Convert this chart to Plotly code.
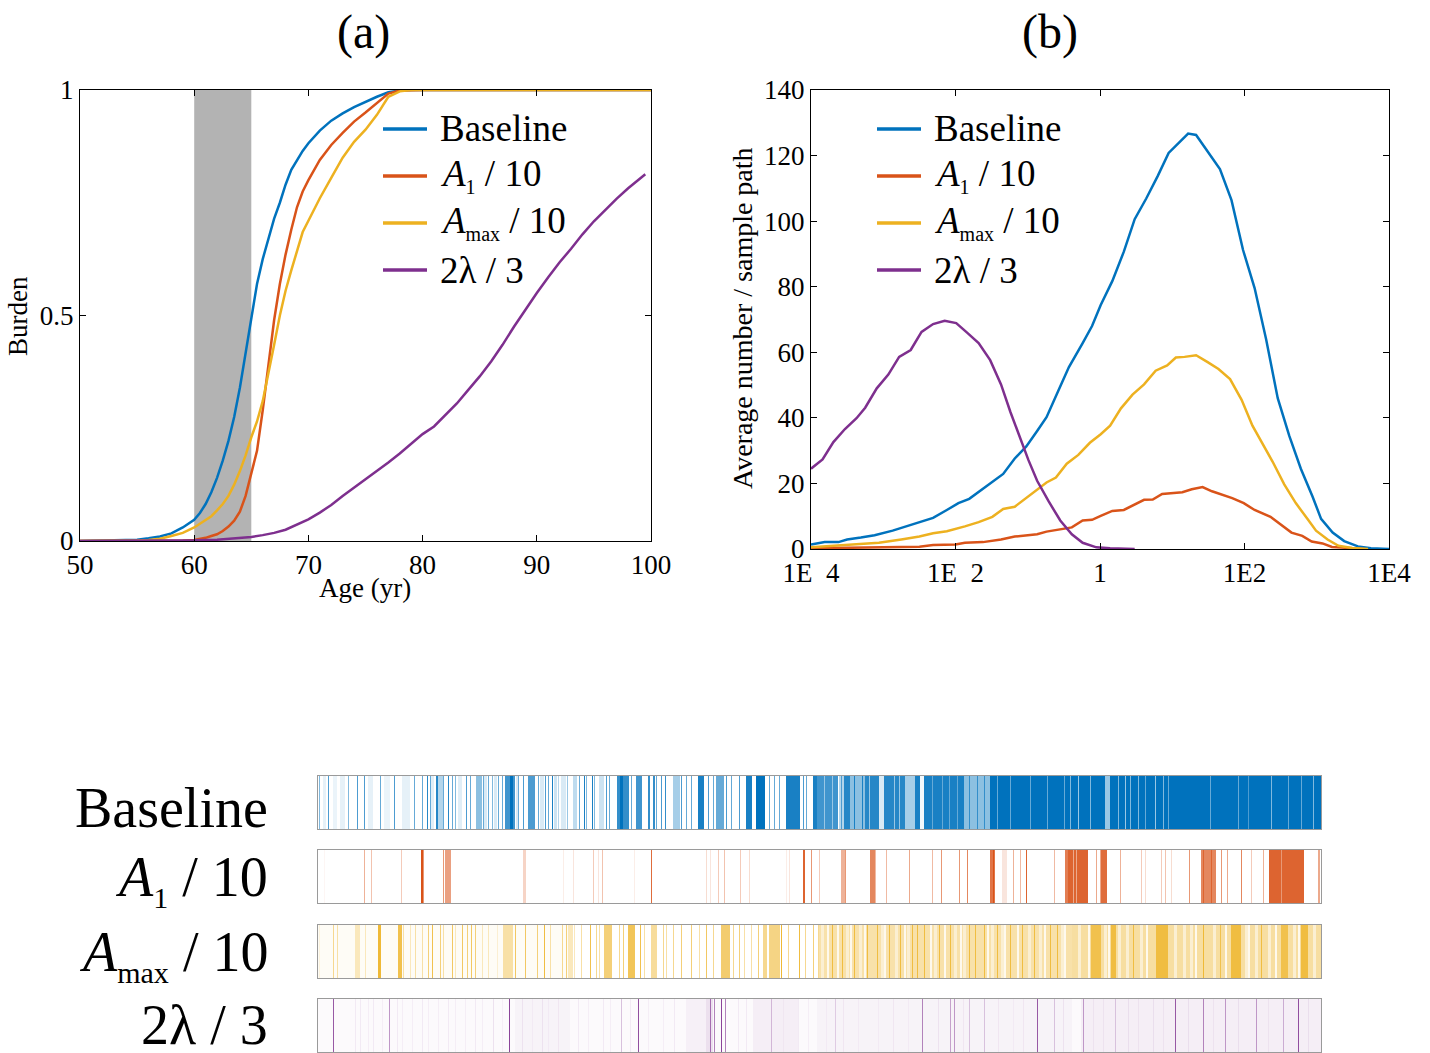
import numpy as np
import plotly.graph_objects as go

W, H = 1430, 1053
FONT = "Liberation Serif"

# ---------------- Panel (a): burden vs age ----------------
age = [50, 52, 54, 55, 56, 57, 58, 59, 60, 60.5, 61, 61.5, 62, 62.5, 63, 63.5, 64, 64.5, 65,
       65.5, 66, 66.5, 67, 67.5, 68, 68.5, 69, 69.5, 70, 71, 72, 73, 74, 75, 76, 77, 78, 79,
       80, 85, 90, 95, 100]
burden_baseline = [0, 0.001, 0.002, 0.003, 0.006, 0.01, 0.017, 0.03, 0.047, 0.062, 0.082, 0.108,
                   0.14, 0.178, 0.222, 0.275, 0.34, 0.42, 0.5, 0.57, 0.625, 0.67, 0.715, 0.75,
                   0.79, 0.823, 0.845, 0.865, 0.882, 0.91, 0.932, 0.948, 0.962, 0.974, 0.985,
                   0.995, 0.999, 1, 1, 1, 1, 1, 1]
burden_a1 = [0, 0, 0, 0, 0, 0, 0.001, 0.001, 0.002, 0.004, 0.007, 0.011, 0.015, 0.022, 0.032,
             0.045, 0.065, 0.1, 0.15, 0.2, 0.29, 0.39, 0.49, 0.57, 0.635, 0.69, 0.74, 0.775, 0.8,
             0.845, 0.878, 0.905, 0.93, 0.95, 0.972, 0.992, 0.999, 1, 1, 1, 1, 1, 1]
burden_amax = [0, 0, 0.001, 0.001, 0.002, 0.005, 0.011, 0.018, 0.03, 0.038, 0.046, 0.055, 0.068,
               0.082, 0.1, 0.125, 0.155, 0.19, 0.23, 0.265, 0.31, 0.37, 0.435, 0.5, 0.555, 0.6,
               0.645, 0.685, 0.71, 0.76, 0.805, 0.85, 0.885, 0.912, 0.945, 0.985, 0.997, 1, 1,
               1, 1, 1, 1]
age_lambda = [50, 52, 54, 56, 58, 60, 62, 63, 64, 65, 66, 67, 68, 69, 70, 71, 72, 73, 74, 75, 76,
              77, 78, 79, 80, 81, 82, 83, 84, 85, 86, 87, 88, 89, 90, 91, 92, 93, 94, 95, 96, 97,
              98, 99, 99.5]
burden_lambda = [0, 0, 0, 0.0005, 0.001, 0.0015, 0.003, 0.005, 0.007, 0.009, 0.013, 0.018, 0.025,
                 0.036, 0.048, 0.063, 0.08, 0.1, 0.118, 0.136, 0.155, 0.174, 0.194, 0.215, 0.237,
                 0.254, 0.28, 0.305, 0.335, 0.365, 0.398, 0.435, 0.475, 0.514, 0.55, 0.585, 0.618,
                 0.648, 0.68, 0.709, 0.735, 0.759, 0.782, 0.803, 0.813]
treatment_window = [60, 65]

# ---------------- Panel (b): average number / sample path ----------------
logx_baseline = [-4, -3.81, -3.62, -3.5, -3.31, -3.12, -2.87, -2.68, -2.5, -2.31, -2.12, -1.96,
                 -1.81, -1.65, -1.49, -1.34, -1.18, -1.02, -0.87, -0.74, -0.58, -0.43, -0.24,
                 -0.11, 0.01, 0.17, 0.33, 0.48, 0.64, 0.8, 0.95, 1.11, 1.22, 1.33, 1.5, 1.66,
                 1.82, 1.98, 2.14, 2.3, 2.46, 2.62, 2.78, 2.94, 3.06, 3.22, 3.38, 3.57, 3.75, 4]
count_baseline = [1.4, 2.1, 2.1, 2.9, 3.5, 4.2, 5.6, 6.9, 8, 9.5, 11.9, 14, 15.3, 17.9, 20.3, 22.9,
                  27.6, 31.3, 36, 40.2, 48.1, 55.5, 62.8, 68, 74.4, 81.7, 90.7, 100.6, 106.9,
                  113.8, 120.8, 124.3, 126.7, 126.3, 121.1, 115.9, 106.4, 91.2, 79.6, 63.9, 46,
                  34.5, 24.5, 16.1, 9.2, 5, 2.4, 0.8, 0.2, 0]
logx_a1 = [-4, -3.37, -3, -2.75, -2.5, -2.31, -2, -1.87, -1.62, -1.37, -1.18, -1.02, -0.87, -0.74,
           -0.55, -0.39, -0.24, -0.11, 0.01, 0.17, 0.33, 0.45, 0.61, 0.73, 0.86, 1.02, 1.14, 1.27,
           1.42, 1.55, 1.71, 1.83, 1.99, 2.14, 2.36, 2.52, 2.65, 2.8, 2.93, 3.08, 3.21, 3.4, 3.65]
count_a1 = [0.2, 0.3, 0.4, 0.6, 0.7, 1.2, 1.4, 1.9, 2.1, 2.9, 3.8, 4.2, 4.5, 5.3, 6.1, 6.6, 8.7,
            8.9, 10.1, 11.6, 11.9, 13.2, 15, 15.1, 16.8, 17.1, 17.3, 18.2, 18.9, 17.6, 16.4, 15.5,
            14, 11.9, 9.8, 7.1, 5, 4, 2.3, 1.7, 0.6, 0.4, 0]
logx_amax = [-4, -3.69, -3.37, -3.06, -2.75, -2.5, -2.31, -2.12, -1.87, -1.68, -1.49, -1.34, -1.18,
             -1.02, -0.87, -0.74, -0.61, -0.46, -0.3, -0.14, 0.01, 0.14, 0.29, 0.45, 0.61, 0.77,
             0.93, 1.05, 1.17, 1.33, 1.49, 1.64, 1.8, 1.96, 2.11, 2.27, 2.39, 2.55, 2.71, 2.87,
             2.99, 3.15, 3.3, 3.49, 3.71]
count_amax = [0.5, 1, 1.5, 1.9, 2.9, 3.8, 4.8, 5.4, 6.9, 8.2, 9.8, 12.2, 12.9, 15.5, 18.2, 20.3,
              21.8, 26, 28.7, 32.4, 35, 37.6, 42.9, 47.1, 50.2, 54.4, 56, 58.4, 58.6, 59.1, 57,
              54.9, 51.8, 45.5, 37.6, 31.3, 26.6, 19.7, 14, 9.2, 5.6, 2.9, 1, 0.3, 0]
logx_lambda = [-4, -3.84, -3.69, -3.53, -3.37, -3.25, -3.09, -2.93, -2.78, -2.62, -2.47, -2.31,
               -2.15, -1.99, -1.84, -1.68, -1.52, -1.37, -1.24, -1.12, -0.99, -0.87, -0.71, -0.55,
               -0.39, -0.24, -0.05, 0.14, 0.48]
count_lambda = [24.5, 27.3, 32.6, 36.6, 39.9, 43.1, 49, 53.2, 58.6, 60.7, 66.2, 68.6, 69.6, 68.9,
                66, 62.8, 57.6, 50.2, 41.8, 34.5, 27.1, 20.8, 14.5, 8.7, 4.5, 1.9, 0.5, 0.2, 0]
b_tickvals = [1e-4, 1e-2, 1, 1e2, 1e4]
b_ticktext = ["1E\u00a0\u00a04", "1E\u00a0\u00a02", "1", "1E2", "1E4"]

# ---------------- Event strips: (start, width, intensity), later entries overwrite ----------------
strip_len = 1003
events_baseline = [
    (5, 3, 0.1), (15, 4, 0.08), (22, 5, 0.1), (50, 5, 0.1), (66, 6, 0.08), (84, 8, 0.1),
    (113, 3, 0.12), (140, 4, 0.12), (166, 3, 0.15), (176, 3, 0.15), (198, 2, 0.15), (222, 4, 0.15),
    (236, 3, 0.2), (243, 5, 0.15),
    (1, 1, 0.5), (10, 1, 0.7), (30, 1, 0.5), (39, 1, 0.7), (46, 1, 0.7), (62, 1, 0.6), (76, 1, 0.7),
    (96, 1, 0.6), (104, 1, 0.6), (109, 1, 0.85), (112, 1, 0.6), (118, 2, 0.85), (120, 5, 0.3),
    (125, 1, 0.6), (130, 1, 0.85), (134, 1, 0.6), (137, 1, 0.5), (148, 1, 0.7), (152, 1, 0.6),
    (158, 6, 0.45), (165, 1, 0.6), (170, 1, 0.6), (174, 1, 0.5), (180, 1, 0.6), (184, 1, 0.6),
    (187, 10, 0.75), (192, 3, 1.0), (200, 1, 0.6), (205, 1, 0.7), (210, 7, 0.7), (220, 1, 0.6),
    (227, 1, 0.7), (230, 1, 0.6), (234, 1, 0.9), (240, 1, 0.3), (249, 1, 0.4),
    (255, 4, 0.25), (261, 1, 0.6), (266, 1, 0.9), (268, 1, 0.5), (274, 1, 0.9), (276, 1, 0.5),
    (281, 5, 0.2), (288, 1, 0.7), (291, 1, 0.6), (299, 12, 0.8), (302, 3, 1.0), (313, 1, 0.6),
    (318, 6, 0.75), (330, 2, 0.8), (335, 2, 0.8), (338, 1, 0.6), (343, 1, 0.7), (347, 1, 0.8),
    (355, 7, 0.35), (363, 1, 0.7), (368, 1, 0.6), (373, 1, 0.6), (380, 6, 0.9), (390, 1, 0.7),
    (395, 1, 0.6), (398, 8, 0.6), (408, 1, 0.7), (413, 1, 0.6), (421, 1, 0.7), (428, 6, 0.9),
    (438, 9, 1.0), (451, 1, 0.6), (456, 1, 0.6), (461, 1, 0.6), (468, 14, 0.9), (485, 1, 0.7),
    (488, 1, 0.6), (495, 9, 0.9),
    (499, 21, 0.75), (506, 1, 0.4), (514, 1, 0.4), (521, 5, 0.3), (523, 1, 0.7), (526, 6, 0.85),
    (532, 15, 0.45), (536, 1, 0.9), (544, 1, 0.9), (547, 14, 0.85), (551, 1, 0.4), (561, 5, 0.15),
    (566, 21, 0.85), (576, 1, 0.4), (581, 1, 0.4), (587, 10, 0.35), (597, 5, 0.9), (602, 4, 0.05),
    (606, 40, 0.9), (614, 1, 0.6), (624, 1, 0.6), (631, 1, 0.6), (639, 1, 0.6), (646, 26, 0.45),
    (651, 1, 0.8), (659, 1, 0.8), (666, 1, 0.8), (672, 82, 1.0), (679, 1, 0.6), (692, 1, 0.6),
    (712, 1, 0.6), (729, 1, 0.6), (746, 1, 0.6),
    (754, 249, 1.0), (752, 1, 0.5), (760, 1, 0.4), (772, 1, 0.5), (787, 5, 0.4), (800, 1, 0.5),
    (807, 1, 0.4), (812, 1, 0.5), (820, 1, 0.5), (827, 1, 0.6), (837, 1, 0.4), (845, 1, 0.5),
    (850, 1, 0.6), (892, 1, 0.6), (920, 1, 0.6), (930, 1, 0.7), (953, 1, 0.5), (970, 1, 0.6),
    (983, 1, 0.6), (995, 1, 0.5),
]
events_a1 = [
    (6, 1, 0.05), (46, 1, 0.45), (53, 1, 0.35), (83, 1, 0.3), (103, 2, 1.0), (105, 1, 0.6),
    (125, 1, 0.6), (127, 6, 0.55), (205, 3, 0.25), (245, 1, 0.1),
    (255, 1, 0.15), (275, 1, 0.3), (280, 1, 0.15), (284, 1, 0.35), (316, 1, 0.1), (333, 1, 0.85),
    (388, 1, 0.2), (392, 1, 0.15), (400, 1, 0.3), (406, 1, 0.35), (422, 1, 0.3), (431, 1, 0.2),
    (468, 1, 0.1), (471, 1, 0.15), (485, 2, 0.9), (493, 1, 0.6), (501, 1, 0.3),
    (523, 5, 0.45), (527, 1, 0.6), (552, 5, 0.7), (557, 1, 0.4), (568, 1, 0.4), (591, 1, 0.5),
    (614, 1, 0.4), (623, 1, 0.6), (641, 1, 0.6), (649, 1, 0.7), (672, 5, 0.8), (675, 1, 1.0),
    (684, 5, 0.15), (695, 1, 0.45), (702, 1, 0.4), (708, 1, 0.9), (736, 1, 0.4), (747, 8, 0.75),
    (750, 20, 0.9), (755, 1, 0.5), (758, 1, 0.5), (778, 1, 0.5), (782, 1, 0.5), (783, 6, 0.85),
    (802, 1, 0.45), (823, 1, 0.3), (827, 1, 0.2), (843, 1, 0.3), (847, 1, 0.35), (853, 1, 0.2),
    (871, 1, 0.6), (883, 15, 0.7), (885, 1, 0.9), (893, 1, 0.9), (903, 1, 0.6), (909, 1, 0.5),
    (923, 1, 0.7), (933, 1, 0.3), (945, 1, 0.45), (951, 35, 0.9), (963, 1, 0.6), (1000, 2, 0.5),
]
events_amax = [
    (0, 250, 0.04),
    (1, 1, 0.15), (15, 1, 0.5), (19, 1, 0.4), (37, 5, 0.3), (47, 1, 0.3), (60, 3, 0.9),
    (80, 4, 0.8), (85, 1, 0.4), (92, 1, 0.3), (97, 1, 0.4), (104, 1, 0.4), (110, 1, 0.6),
    (114, 1, 0.8), (122, 1, 0.6), (125, 1, 0.4), (134, 1, 0.7), (137, 1, 0.3), (144, 1, 0.7),
    (149, 1, 0.6), (153, 1, 0.7), (157, 1, 0.6), (164, 1, 0.3), (170, 1, 0.3), (179, 1, 0.2),
    (185, 10, 0.4), (197, 1, 0.7), (207, 1, 0.7), (219, 1, 0.6), (226, 1, 0.85), (232, 1, 0.4),
    (244, 1, 0.5), (248, 1, 0.6),
    (250, 5, 0.3), (256, 1, 0.3), (263, 1, 0.4), (272, 1, 0.8), (278, 1, 0.5), (281, 1, 0.4),
    (286, 8, 0.6), (301, 1, 0.5), (305, 1, 0.6), (310, 7, 0.75), (322, 1, 0.8), (326, 1, 0.4),
    (333, 6, 0.45), (345, 1, 0.5), (348, 1, 0.4), (355, 1, 0.5), (363, 1, 0.6), (373, 1, 0.6),
    (381, 1, 0.4), (388, 1, 0.7), (395, 1, 0.5), (403, 9, 0.65), (415, 1, 0.5), (421, 1, 0.6),
    (426, 1, 0.4), (433, 1, 0.4), (440, 1, 0.6), (445, 4, 0.5), (451, 11, 0.55), (463, 1, 0.9),
    (470, 1, 0.5), (481, 1, 0.85), (487, 1, 0.5), (495, 1, 0.6), (500, 1, 0.5),
    (501, 253, 0.38),
    (503, 3, 0.2), (528, 3, 0.2), (541, 3, 0.2), (563, 3, 0.2), (577, 3, 0.2), (589, 3, 0.2),
    (616, 3, 0.2), (636, 3, 0.2), (645, 3, 0.2), (673, 3, 0.2), (683, 3, 0.2), (710, 3, 0.2),
    (721, 3, 0.2), (743, 3, 0.2),
    (509, 2, 0.08), (519, 2, 0.08), (532, 2, 0.08), (546, 2, 0.08), (566, 2, 0.08), (586, 2, 0.08),
    (612, 2, 0.08), (626, 2, 0.08), (642, 2, 0.08), (669, 2, 0.08), (686, 2, 0.08), (699, 2, 0.08),
    (726, 2, 0.08), (746, 2, 0.08),
    (514, 1, 0.85), (524, 1, 0.85), (536, 1, 0.85), (549, 1, 0.85), (559, 1, 0.85), (571, 1, 0.85),
    (582, 1, 0.85), (594, 1, 0.85), (599, 1, 0.85), (606, 1, 0.85), (621, 1, 0.85), (632, 1, 0.85),
    (651, 1, 0.85), (657, 1, 0.85), (666, 1, 0.85), (679, 1, 0.85), (692, 1, 0.85), (704, 1, 0.85),
    (716, 1, 0.85), (732, 1, 0.85), (739, 1, 0.85),
    (754, 249, 0.42),
    (760, 3, 0.2), (786, 3, 0.2), (800, 3, 0.2), (808, 3, 0.2), (822, 3, 0.2), (856, 3, 0.2),
    (865, 3, 0.2), (872, 3, 0.2), (895, 3, 0.2), (927, 3, 0.2), (937, 3, 0.2), (950, 3, 0.2),
    (975, 3, 0.2), (995, 3, 0.2),
    (773, 10, 0.8), (793, 5, 0.85), (815, 1, 0.85), (838, 12, 0.85), (885, 1, 0.9), (902, 1, 0.8),
    (913, 10, 0.85), (943, 1, 0.85), (963, 7, 0.8), (983, 7, 0.85),
    (770, 2, 0.08), (790, 2, 0.08), (828, 2, 0.08), (877, 2, 0.08), (907, 2, 0.08), (930, 2, 0.08),
    (957, 2, 0.08), (980, 2, 0.08),
]
events_lambda = [
    (0, 1003, 0.025),
    (37, 1, 0.1), (42, 1, 0.1), (50, 1, 0.08), (55, 1, 0.1), (64, 1, 0.08), (79, 1, 0.1),
    (84, 1, 0.08), (94, 1, 0.08), (104, 1, 0.1), (110, 1, 0.08), (120, 1, 0.08), (130, 1, 0.1),
    (137, 1, 0.08), (147, 1, 0.08), (157, 1, 0.1), (164, 1, 0.08), (175, 1, 0.14), (184, 1, 0.08),
    (197, 55, 0.06), (204, 1, 0.14), (214, 1, 0.1), (224, 1, 0.14), (230, 1, 0.1), (240, 1, 0.12),
    (15, 1, 0.8), (71, 1, 0.5), (191, 1, 0.9),
    (260, 1, 0.1), (270, 1, 0.08), (285, 1, 0.1), (292, 1, 0.08), (312, 1, 0.1), (330, 1, 0.08),
    (345, 1, 0.08), (356, 1, 0.1),
    (303, 1, 0.3), (320, 1, 0.85), (368, 27, 0.07), (388, 7, 0.15), (392, 1, 0.7), (396, 1, 0.6),
    (403, 1, 0.9), (407, 1, 0.6), (420, 1, 0.1), (428, 1, 0.1), (435, 45, 0.08), (453, 1, 0.35),
    (465, 1, 0.12), (480, 1, 0.1), (490, 1, 0.08),
    (499, 255, 0.06), (508, 1, 0.1), (525, 1, 0.12), (540, 1, 0.1), (560, 1, 0.1), (575, 1, 0.12),
    (590, 1, 0.1), (620, 1, 0.14), (645, 1, 0.12), (680, 1, 0.12), (695, 1, 0.1), (705, 1, 0.12),
    (745, 1, 0.14),
    (517, 1, 0.25), (604, 1, 0.6), (632, 1, 0.45), (636, 1, 0.5), (651, 1, 0.3), (666, 1, 0.3),
    (719, 1, 0.8), (736, 1, 0.3),
    (763, 240, 0.08), (775, 1, 0.14), (785, 1, 0.14), (810, 1, 0.16), (820, 1, 0.14), (835, 1, 0.16),
    (845, 1, 0.14), (870, 1, 0.16), (895, 1, 0.14), (920, 1, 0.16), (950, 1, 0.14), (990, 1, 0.16),
    (765, 1, 0.5), (797, 1, 0.3), (857, 1, 0.8), (885, 1, 0.6), (907, 1, 0.5), (938, 1, 0.5),
    (965, 1, 0.4), (980, 1, 0.85),
]

SUB = "<sub><span style='font-size:{}px'>{}</span></sub>"
legend_names = ["Baseline", "<i>A</i>" + SUB.format(20, "1") + " / 10",
                "<i>A</i>" + SUB.format(20, "max") + " / 10", "2λ / 3"]
strip_names = ["Baseline", "<i>A</i>" + SUB.format(30, "1") + " / 10",
               "<i>A</i>" + SUB.format(30, "max") + " / 10", "2λ / 3"]
trace_names = ["Baseline", "A1 / 10", "Amax / 10", "2λ / 3"]
colors = ["#0072BD", "#D95319", "#EDB120", "#7E2F8E"]


def px(xp):
    return xp / W


def py(yp):
    return 1 - yp / H


def raster(events):
    z = np.zeros(strip_len)
    for s, w, v in events:
        z[s:s + w] = v
    return z


fig = go.Figure()

# Panel (a)
a_series = [(age, burden_baseline), (age, burden_a1), (age, burden_amax), (age_lambda, burden_lambda)]
for (xs, ys), nm, c in zip(a_series, trace_names, colors):
    fig.add_trace(go.Scatter(x=xs, y=ys, mode="lines", name=nm, line=dict(color=c, width=2.5),
                             showlegend=False, xaxis="x", yaxis="y"))

# Panel (b)
b_series = [(logx_baseline, count_baseline), (logx_a1, count_a1), (logx_amax, count_amax),
            (logx_lambda, count_lambda)]
for (lx, ys), nm, c in zip(b_series, trace_names, colors):
    fig.add_trace(go.Scatter(x=[10 ** v for v in lx], y=ys, mode="lines", name=nm,
                             line=dict(color=c, width=2.5), showlegend=False,
                             xaxis="x2", yaxis="y2"))

# Strips
strip_events = [events_baseline, events_a1, events_amax, events_lambda]
for i, (ev, c) in enumerate(zip(strip_events, colors)):
    ax = str(i + 3)
    fig.add_trace(go.Heatmap(z=[raster(ev)], x=list(range(strip_len)), y=[0],
                             colorscale=[[0, "#ffffff"], [1, c]], zmin=0, zmax=1,
                             showscale=False, hoverinfo="skip",
                             xaxis="x" + ax, yaxis="y" + ax))

axis_common = dict(showgrid=False, zeroline=False, showline=True, linecolor="black",
                   linewidth=1, mirror="ticks", ticks="inside", ticklen=6, tickcolor="black",
                   automargin=False,
                   tickfont=dict(family=FONT, size=27, color="black"))

layout = dict(
    width=W, height=H, margin=dict(l=0, r=0, t=0, b=0, pad=0, autoexpand=False),
    paper_bgcolor="white", plot_bgcolor="white", showlegend=False,
    font=dict(family=FONT, color="black"),
    xaxis=dict(domain=[px(80), px(651)], range=[50, 100], tickvals=[50, 60, 70, 80, 90, 100],
               anchor="y", **axis_common),
    yaxis=dict(domain=[py(541), py(90)], range=[0, 1], tickvals=[0, 0.5, 1],
               ticktext=["0", "0.5", "1"], anchor="x", **axis_common),
    xaxis2=dict(domain=[px(811), px(1389)], type="log", range=[-4, 4], tickvals=b_tickvals,
                ticktext=b_ticktext, anchor="y2", **axis_common),
    yaxis2=dict(domain=[py(549), py(90)], range=[0, 140], tickvals=list(range(0, 141, 20)),
                anchor="x2", **axis_common),
)
strip_rows = [(776, 829), (850, 903), (925, 978), (999, 1052)]
for i, (top, bot) in enumerate(strip_rows):
    ax = str(i + 3)
    layout["xaxis" + ax] = dict(domain=[px(318), px(1321)], range=[-0.5, strip_len - 0.5],
                                showgrid=False, zeroline=False, showticklabels=False, ticks="",
                                showline=True, linecolor="#9a9a9a", linewidth=1, mirror=True,
                                automargin=False, anchor="y" + ax)
    layout["yaxis" + ax] = dict(domain=[py(bot), py(top)], range=[-0.5, 0.5], showgrid=False,
                                zeroline=False, showticklabels=False, ticks="", showline=True,
                                linecolor="#9a9a9a", linewidth=1, mirror=True,
                                automargin=False, anchor="x" + ax)
fig.update_layout(**layout)

# treatment window shading in panel (a)
fig.add_shape(type="rect", xref="x", yref="y domain", x0=treatment_window[0],
              x1=treatment_window[1], y0=0, y1=1, fillcolor="#B3B3B3",
              line=dict(width=0), layer="below")


def note(text, x, y, size, **kw):
    d = dict(text=text, x=px(x), y=py(y), xref="paper", yref="paper", showarrow=False,
             xanchor="center", yanchor="middle", font=dict(family=FONT, size=size, color="black"))
    d.update(kw)
    return d


annotations = [
    note("(a)", 363, 32, 48),
    note("(b)", 1050, 32, 48),
    note("Burden", 18, 316, 27, textangle=-90),
    note("Age (yr)", 365, 588, 27),
    note("Average number / sample path", 742, 318, 28, textangle=-90),
]

# Legends (drawn manually)
legend_rows = [129, 176, 223, 270]
for lx0, tx in [(383, 438), (877, 932)]:
    for yrow, nm, c in zip(legend_rows, legend_names, colors):
        fig.add_shape(type="line", xref="paper", yref="paper", x0=px(lx0), x1=px(lx0 + 44),
                      y0=py(yrow), y1=py(yrow), line=dict(color=c, width=3.5))
        annotations.append(note(nm, tx, yrow, 37, xanchor="left"))

# Strip labels
strip_label_y = [808, 880, 955, 1025]
for yl, nm in zip(strip_label_y, strip_names):
    annotations.append(note(nm, 270, yl, 56, xanchor="right"))

fig.update_layout(annotations=annotations)
fig.write_html("out.html", config={"displayModeBar": False},
               post_script="document.body.style.margin='0';document.body.style.overflow='hidden';")
